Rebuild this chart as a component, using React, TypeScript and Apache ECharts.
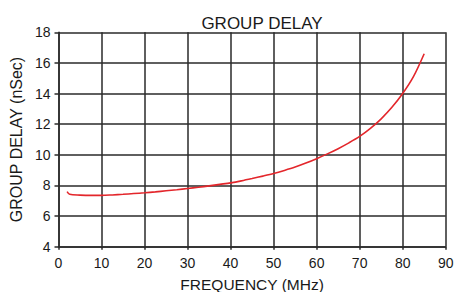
import React, { useEffect, useRef } from "react";
import * as echarts from "echarts";

const freq = [2, 2.6, 5, 7.5, 10, 12.5, 15, 17.5, 20, 22.5, 25, 27.5, 30, 32.5, 35, 37.5, 40, 42.5, 45, 47.5, 50, 52.5, 55, 57.5, 60, 62.5, 65, 67.5, 70, 72.5, 75, 77.5, 80, 82.5, 85];
const delay = [7.6, 7.42, 7.37, 7.35, 7.35, 7.38, 7.42, 7.47, 7.52, 7.58, 7.65, 7.72, 7.8, 7.88, 7.97, 8.07, 8.17, 8.3, 8.45, 8.61, 8.78, 8.98, 9.2, 9.46, 9.75, 10.06, 10.4, 10.78, 11.2, 11.72, 12.35, 13.1, 14.0, 15.1, 16.6];
const title = "GROUP DELAY";
const xName = "FREQUENCY (MHz)";
const yName = "GROUP DELAY (nSec)";

export default function App() {
  const ref = useRef<HTMLDivElement>(null);
  useEffect(() => {
    const chart = echarts.init(ref.current!, null, { renderer: "svg" });
    const font = "'Liberation Sans', Arial, sans-serif";
    const lineColor = "#2a2a2a";
    const textColor = "#1a1a1a";
    chart.setOption({
      animation: false,
      backgroundColor: "#ffffff",
      title: {
        text: title,
        left: 257,
        top: 10,
        textAlign: "center",
        textStyle: { fontFamily: font, fontSize: 17, fontWeight: "normal", color: textColor },
      },
      grid: { left: 58.5, right: 8.3, top: 32.3, bottom: 45.3, outerBoundsMode: "none", containLabel: false },
      xAxis: {
        type: "value",
        min: 0,
        max: 90,
        interval: 10,
        name: xName,
        nameLocation: "middle",
        nameGap: 30,
        nameTextStyle: { fontFamily: font, fontSize: 15.5, color: textColor },
        axisLine: { show: true, lineStyle: { color: lineColor, width: 1.5 } },
        axisTick: { show: true, length: 3, lineStyle: { color: lineColor, width: 1.5 } },
        axisLabel: { fontFamily: font, fontSize: 14, color: textColor, margin: 9 },
        splitLine: { show: true, lineStyle: { color: lineColor, width: 1.5 } },
      },
      yAxis: {
        type: "value",
        min: 4,
        max: 18,
        interval: 2,
        name: yName,
        nameLocation: "middle",
        nameGap: 34,
        nameRotate: 90,
        nameTextStyle: { fontFamily: font, fontSize: 16, color: textColor },
        axisLine: { show: true, lineStyle: { color: lineColor, width: 1.5 } },
        axisTick: { show: true, length: 4, lineStyle: { color: lineColor, width: 1.5 } },
        axisLabel: { fontFamily: font, fontSize: 14, color: textColor, margin: 8 },
        splitLine: { show: true, lineStyle: { color: lineColor, width: 1.5 } },
      },
      series: [
        {
          type: "line",
          data: freq.map((f, i) => [f, delay[i]]),
          smooth: 0.3,
          showSymbol: false,
          symbol: "none",
          lineStyle: { color: "#e3262b", width: 1.6 },
        },
      ],
    });
    return () => chart.dispose();
  }, []);
  return <div ref={ref} style={{ position: "fixed", left: 0, top: 0, width: 454, height: 292 }} />;
}
